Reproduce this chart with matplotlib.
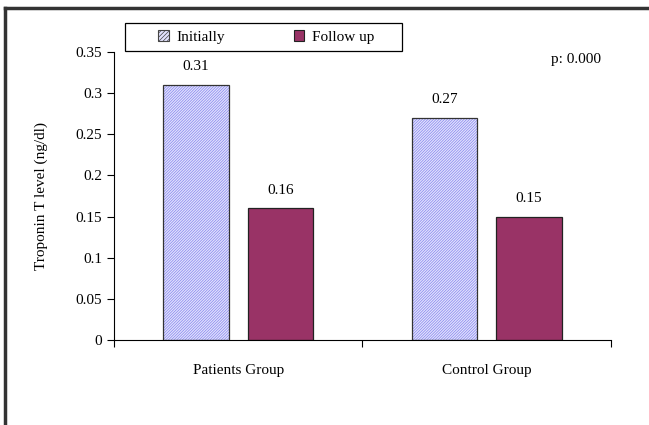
import numpy as np
import matplotlib
matplotlib.use('Agg')
import matplotlib.pyplot as plt
from matplotlib.lines import Line2D
from matplotlib.patches import Patch, Rectangle

groups = ['Patients Group', 'Control Group']
initially = [0.31, 0.27]
follow_up = [0.16, 0.15]
series_names = ['Initially', 'Follow up']
p_text = 'p: 0.000'
y_label = 'Troponin T level (ng/dl)'

plt.rcParams['font.family'] = ['Liberation Serif', 'DejaVu Serif']
plt.rcParams['hatch.linewidth'] = 0.5

fs = 11
fig = plt.figure(figsize=(6.49, 4.25), dpi=100)
ax = fig.add_axes([0.1757, 0.2, 0.7657, 0.6776])

x = np.arange(len(groups)) + 0.5
w = 0.265
off = 0.17
hatch = '/' * 12

# hatched bars: fill + hatch first, then the outline on top
ax.bar(x - off, initially, w, color='#e2e2fd', edgecolor='#8585ee', hatch=hatch, linewidth=0)
ax.bar(x - off, initially, w, fill=False, edgecolor='#333333', linewidth=0.9)
ax.bar(x + off, follow_up, w, color='#993366', edgecolor='#222222', linewidth=0.9)

for xi, v in zip(x - off, initially):
    ax.text(xi, v + 0.014, f'{v:.2f}', ha='center', va='bottom', fontsize=fs)
for xi, v in zip(x + off, follow_up):
    ax.text(xi, v + 0.014, f'{v:.2f}', ha='center', va='bottom', fontsize=fs)

ax.set_xlim(0, 2)
ax.set_ylim(0, 0.35)
yt = np.arange(0, 0.351, 0.05).round(2)
ax.set_yticks(yt)
ax.set_yticklabels([f'{t:g}' for t in yt], fontsize=fs)
ax.set_xticks([0, 1, 2])
ax.set_xticklabels([])
ax.set_xticks(x, minor=True)
ax.set_xticklabels(groups, minor=True, fontsize=fs)
ax.tick_params(axis='x', which='minor', length=0, pad=17)
ax.tick_params(axis='x', which='major', length=5, direction='out')
ax.tick_params(axis='y', length=5, direction='out')
ax.spines['top'].set_visible(False)
ax.spines['right'].set_visible(False)
ax.set_ylabel(y_label, fontsize=fs, labelpad=20)

ax.text(0.93, 0.975, p_text, transform=ax.transAxes, ha='center', va='center', fontsize=fs)

# legend box drawn separately so the entries can sit centred in it
fig.add_artist(Rectangle((0.1926, 0.88), 0.4268, 0.0659, transform=fig.transFigure,
                         fill=False, edgecolor='black', linewidth=0.9))
handles = [Patch(facecolor='#e2e2fd', edgecolor='#444444', hatch='/' * 8, linewidth=0.8),
           Patch(facecolor='#993366', edgecolor='#222222', linewidth=0.8)]
fig.legend(handles, series_names, loc='center', ncol=2,
           bbox_to_anchor=(0.41, 0.913), frameon=False, fontsize=fs,
           handlelength=0.7, handleheight=0.7, handletextpad=0.5, columnspacing=4.5)

# outer frame (top and left edges only visible in the picture)
fig.add_artist(Line2D([0.007, 1.0], [0.982, 0.982], transform=fig.transFigure, color='#333333', lw=2.5))
fig.add_artist(Line2D([0.008, 0.008], [0.0, 0.982], transform=fig.transFigure, color='#333333', lw=2.5))

fig.savefig('out.png', dpi=100)
